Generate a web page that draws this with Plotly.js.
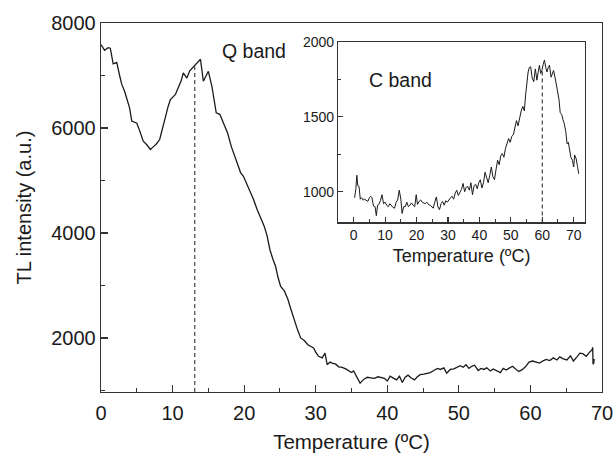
<!DOCTYPE html>
<html><head><meta charset="utf-8">
<script src="https://cdn.plot.ly/plotly-3.0.1.min.js"></script>
<style>html,body{margin:0;padding:0;background:#fff}#chart{width:615px;height:453px}</style>
</head><body><div id="chart"></div>
<script>
// Main curve: Q band (temperature in ºC, TL intensity a.u.)
const mainTemp = [0,0.5,1.0,1.3,1.7,2.2,2.6,2.9,3.3,3.6,4.0,4.3,4.7,5.0,5.4,5.9,6.4,6.9,7.3,7.7,8.2,8.6,9.0,9.4,9.7,10.1,10.4,10.8,11.2,11.5,12.0,12.4,12.8,13.2,13.6,13.9,14.3,14.6,15.0,15.5,15.8,16.1,16.6,17.0,17.4,17.7,18.2,18.7,19.0,19.5,19.9,20.3,20.8,21.3,21.8,22.3,22.8,23.2,23.6,24.0,24.4,24.7,25.1,25.6,26.1,26.5,27.0,27.5,27.9,28.4,28.9,29.3,29.7,30.0,30.4,30.9,31.3,31.6,32.0,32.3,32.8,33.2,33.7,34.2,34.6,35.0,35.3,35.7,36.2,36.7,37.2,37.7,38.2,38.7,39.2,39.6,40.0,40.4,40.9,41.3,41.7,42.1,42.5,42.9,43.3,43.8,44.2,44.6,45.1,45.6,46.0,46.5,47.0,47.4,47.9,48.3,48.8,49.3,49.7,50.2,50.6,51.0,51.4,51.8,52.2,52.7,53.1,53.5,53.9,54.4,54.8,55.3,55.8,56.2,56.6,57.1,57.5,58.0,58.4,58.9,59.3,59.8,60.3,60.8,61.3,61.7,62.2,62.7,63.2,63.7,64.1,64.6,65.1,65.6,66.0,66.5,66.9,67.3,67.8,68.2,68.6,68.7,68.75,68.8,68.85,68.9];
const mainTL = [7590,7480,7530,7520,7220,7250,7000,6830,6700,6570,6380,6130,6110,6090,5950,5750,5680,5590,5640,5690,5780,6000,6220,6420,6540,6590,6640,6770,6900,7050,6950,7090,7150,7200,7250,7310,6890,6980,7080,6790,6550,6290,6260,6120,5970,5900,5650,5460,5380,5150,5080,4960,4800,4640,4450,4290,4130,3950,3680,3510,3360,3170,2980,2900,2740,2560,2330,2140,2000,1950,1870,1840,1810,1730,1650,1620,1710,1490,1540,1520,1500,1450,1440,1410,1370,1340,1370,1260,1140,1210,1250,1240,1230,1260,1240,1230,1180,1270,1230,1200,1270,1150,1250,1290,1240,1200,1260,1300,1310,1330,1340,1380,1420,1400,1430,1330,1400,1410,1430,1470,1440,1490,1420,1460,1480,1380,1420,1400,1430,1370,1410,1380,1340,1420,1390,1430,1460,1400,1360,1400,1450,1540,1560,1540,1520,1560,1590,1570,1620,1580,1640,1600,1580,1660,1560,1640,1710,1700,1650,1720,1770,1820,1500,1790,1520,1600];

// Inset curve: C band
const insetTemp = [0.3,0.7,1.0,1.3,1.7,2.1,2.5,3.0,3.5,4.0,4.5,5.0,5.4,5.8,6.3,6.8,7.2,7.6,8.0,8.5,9.0,9.5,10.0,10.5,11.0,11.5,12.0,12.5,13.0,13.5,14.0,14.5,15.0,15.4,15.9,16.4,16.9,17.4,17.9,18.4,18.9,19.4,19.9,20.3,20.8,21.3,21.8,22.3,22.8,23.3,23.8,24.3,24.8,25.3,25.8,26.3,26.8,27.3,27.8,28.3,28.8,29.3,29.8,30.3,30.8,31.3,31.8,32.3,32.8,33.3,33.8,34.3,34.8,35.3,35.8,36.3,36.8,37.3,37.8,38.3,38.8,39.3,39.8,40.3,40.8,41.3,41.8,42.3,42.8,43.3,43.8,44.3,44.8,45.3,45.8,46.3,46.8,47.3,47.8,48.3,48.8,49.3,49.8,50.3,50.8,51.3,51.8,52.3,52.8,53.3,53.8,54.3,54.7,55.1,55.5,55.9,56.3,56.8,57.3,57.8,58.3,58.7,59.1,59.5,59.9,60.3,60.7,61.1,61.5,61.9,62.3,62.8,63.2,63.6,64.1,64.5,64.9,65.3,65.7,66.2,66.6,67.0,67.5,67.9,68.3,68.7,69.1,69.6,70.0,70.3,70.8,71.2,71.6];
const insetTL = [960,1020,1110,1040,1035,950,960,945,950,940,935,960,970,960,905,900,840,910,915,940,980,920,930,910,900,920,905,895,890,930,945,1010,950,855,900,900,930,900,910,925,910,900,980,915,935,945,930,925,920,930,915,910,900,890,930,965,900,880,920,935,910,940,930,950,960,970,950,990,1010,975,1000,1015,1055,1000,1030,1035,1010,1060,980,1040,1050,1020,1060,1080,1025,1060,1130,1090,1060,1110,1165,1100,1080,1150,1210,1180,1240,1255,1230,1290,1320,1355,1330,1370,1380,1420,1475,1440,1500,1540,1570,1540,1645,1720,1800,1830,1835,1760,1735,1820,1745,1800,1845,1790,1810,1850,1880,1830,1800,1830,1845,1765,1790,1810,1760,1720,1680,1620,1530,1515,1480,1455,1400,1320,1330,1270,1230,1210,1165,1245,1220,1170,1120];

// Peak markers (dashed lines)
const qPeakTemp = 13.1, qPeakTL = 7170;
const cPeakTemp = 60, cPeakTL = 1810;

// Tick labels
const mainXTicks = [0,10,20,30,40,50,60,70];
const mainYTicks = [2000,4000,6000,8000];
const insetXTicks = [0,10,20,30,40,50,60,70];
const insetYTicks = [1000,1500,2000];

const mainYMin = 970, insetYMin = 795;
const ink = '#1a1a1a';
const fontFam = 'Liberation Sans, Arial, Helvetica, sans-serif';

const traces = [
  {x: mainTemp, y: mainTL, type:'scatter', mode:'lines', line:{color:ink, width:1.3}, xaxis:'x', yaxis:'y', hoverinfo:'skip'},
  {x: [qPeakTemp, qPeakTemp], y: [mainYMin, qPeakTL], type:'scatter', mode:'lines', line:{color:'#333', width:1.1, dash:'4px,3px'}, xaxis:'x', yaxis:'y'},
  {x: insetTemp, y: insetTL, type:'scatter', mode:'lines', line:{color:ink, width:1}, xaxis:'x2', yaxis:'y2'},
  {x: [cPeakTemp, cPeakTemp], y: [insetYMin, cPeakTL], type:'scatter', mode:'lines', line:{color:'#333', width:1.1, dash:'4px,3px'}, xaxis:'x2', yaxis:'y2'}
];

const axCommon = {showgrid:false, zeroline:false, showline:true, linecolor:'#333', linewidth:1.3, mirror:true, ticks:'inside', tickcolor:'#333', tickwidth:1.2};

const layout = {
  width:615, height:453,
  margin:{l:100.7, r:13.3, t:23.3, b:60.7},
  paper_bgcolor:'#fff', plot_bgcolor:'#fff',
  showlegend:false,
  font:{family:fontFam, color:ink, size:20},
  xaxis: Object.assign({}, axCommon, {
    domain:[0,1], range:[0,70], tickvals:mainXTicks, ticklen:7, ticklabelstandoff:3,
    minor:{dtick:5, tick0:0, ticks:'inside', ticklen:4, tickcolor:'#333', tickwidth:1.1},
    tickfont:{size:20}, title:{text:'Temperature (ºC)', font:{size:20.5}, standoff:11}
  }),
  yaxis: Object.assign({}, axCommon, {
    domain:[0,1], range:[mainYMin,8000], tickvals:mainYTicks, ticklen:7,
    minor:{dtick:1000, tick0:0, ticks:'inside', ticklen:4, tickcolor:'#333', tickwidth:1.1},
    tickfont:{size:20}, title:{text:'TL intensity (a.u.)', font:{size:20}, standoff:14}
  }),
  xaxis2: Object.assign({}, axCommon, {
    domain:[0.473,0.9667], range:[-5,73.7], anchor:'y2', tickvals:insetXTicks, ticklen:5, linewidth:1.1,
    minor:{dtick:5, tick0:0, ticks:'inside', ticklen:3, tickcolor:'#333', tickwidth:1},
    tickfont:{size:14}, title:{text:'Temperature (ºC)', font:{size:18}, standoff:7}
  }),
  yaxis2: Object.assign({}, axCommon, {
    domain:[0.4596,0.9485], range:[insetYMin,2000], anchor:'x2', tickvals:insetYTicks, ticklen:5, linewidth:1.1,
    minor:{dtick:250, tick0:0, ticks:'inside', ticklen:3, tickcolor:'#333', tickwidth:1},
    tickfont:{size:14}
  }),
  annotations:[
    {text:'Q band', x:16.67, y:7460, xref:'x', yref:'y', xanchor:'left', yanchor:'middle', showarrow:false, font:{size:19.5, color:ink}},
    {text:'C band', x:4.3, y:1745, xref:'x2', yref:'y2', xanchor:'left', yanchor:'middle', showarrow:false, font:{size:19.5, color:ink}}
  ]
};

Plotly.newPlot('chart', traces, layout, {staticPlot:true, displayModeBar:false});
</script>
</body></html>
